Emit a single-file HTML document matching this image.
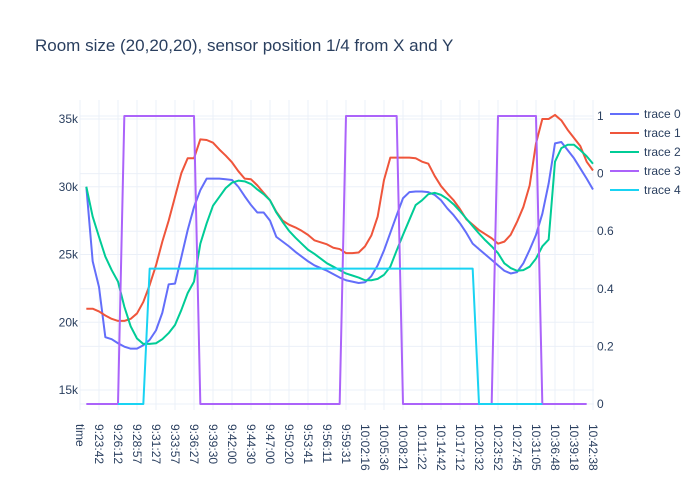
<!DOCTYPE html>
<html><head><meta charset="utf-8"><style>
body{margin:0;background:#fff;}
svg{display:block;font-family:"Liberation Sans","DejaVu Sans",sans-serif;}
</style></head><body>
<svg id="chart" width="700" height="500">
<rect width="700" height="500" fill="#fff"/>
<text x="35" y="51" font-size="17" fill="#2a3f5f">Room size (20,20,20), sensor position 1/4 from X and Y</text>
<g id="grid"></g>
<g id="series"></g>
<g id="axes"></g>
<g id="legend"></g>
</svg>
<script>
const tickLabels=["time","9:23:42","9:26:12","9:28:57","9:31:27","9:33:57","9:36:27","9:39:30","9:42:00","9:44:30","9:47:00","9:50:20","9:53:41","9:56:11","9:59:31","10:02:16","10:05:36","10:08:21","10:11:22","10:14:42","10:17:12","10:20:32","10:23:52","10:27:45","10:31:05","10:36:48","10:39:18","10:42:38"];
const leftTicks=[15,20,25,30,35];
const rightTicks=[0,0.2,0.4,0.6,0.8,1];
const trace0=[30.0,24.5,22.6,18.9,18.75,18.45,18.2,18.05,18.05,18.3,18.7,19.4,20.7,22.8,22.85,24.8,26.8,28.5,29.75,30.6,30.6,30.6,30.55,30.5,30.0,29.3,28.65,28.1,28.1,27.5,26.3,25.95,25.6,25.2,24.85,24.5,24.2,24.0,23.8,23.55,23.3,23.1,23.0,22.9,22.95,23.4,24.2,25.3,26.6,27.9,29.15,29.6,29.65,29.65,29.6,29.4,29.0,28.4,27.9,27.3,26.6,25.8,25.4,25.0,24.6,24.2,23.8,23.6,23.7,24.35,25.35,26.45,28.0,30.25,33.2,33.3,32.7,32.1,31.35,30.6,29.8];
const trace1=[21.0,21.0,20.8,20.5,20.25,20.1,20.1,20.25,20.65,21.5,22.75,24.2,25.95,27.5,29.25,31.0,32.1,32.1,33.5,33.45,33.25,32.75,32.3,31.8,31.15,30.6,30.55,30.1,29.55,29.0,28.15,27.5,27.2,27.0,26.75,26.45,26.05,25.9,25.75,25.5,25.4,25.1,25.1,25.15,25.6,26.4,27.8,30.5,32.15,32.15,32.15,32.15,32.1,31.85,31.7,30.8,30.05,29.5,29.0,28.35,27.6,27.2,26.8,26.5,26.2,25.8,25.95,26.45,27.4,28.5,30.1,33.2,35.0,35.0,35.3,34.9,34.2,33.6,33.0,31.85,31.2];
const trace2=[30.0,27.8,26.3,24.85,23.85,23.0,21.15,19.7,18.8,18.4,18.4,18.45,18.75,19.2,19.8,20.9,22.15,23.0,25.8,27.3,28.6,29.25,29.9,30.3,30.45,30.4,30.2,29.8,29.45,29.0,28.1,27.4,26.75,26.25,25.8,25.35,25.05,24.7,24.35,24.1,23.85,23.6,23.45,23.3,23.1,23.1,23.2,23.5,24.1,25.3,26.45,27.55,28.65,29.0,29.45,29.55,29.4,29.1,28.7,28.2,27.65,27.1,26.55,26.05,25.6,25.1,24.35,24.0,23.8,23.85,24.1,24.7,25.6,26.1,31.85,32.85,33.1,33.1,32.7,32.25,31.7];
const trace3=[0,0,0,0,0,0,1,1,1,1,1,1,1,1,1,1,1,1,0,0,0,0,0,0,0,0,0,0,0,0,0,0,0,0,0,0,0,0,0,0,0,1,1,1,1,1,1,1,1,1,0,0,0,0,0,0,0,0,0,0,0,0,0,0,0,1,1,1,1,1,1,1,0,0,0,0,0,0,0,0];
const trace4=[null,null,null,null,null,0,0,0,0,0,0.47,0.47,0.47,0.47,0.47,0.47,0.47,0.47,0.47,0.47,0.47,0.47,0.47,0.47,0.47,0.47,0.47,0.47,0.47,0.47,0.47,0.47,0.47,0.47,0.47,0.47,0.47,0.47,0.47,0.47,0.47,0.47,0.47,0.47,0.47,0.47,0.47,0.47,0.47,0.47,0.47,0.47,0.47,0.47,0.47,0.47,0.47,0.47,0.47,0.47,0.47,0.47,0,0,0,0,0,0,0,0,0,0,0];
const NS="http://www.w3.org/2000/svg";
const X0=80,STEP=19/3;
function xPos(i){return X0+i*STEP;}           // category index (0 = "time")
function yLeft(v){return 390-(v-15)*13.55;}
function yRight(v){return 404-v*288;}
function mk(tag,attrs,parent){const e=document.createElementNS(NS,tag);for(const k in attrs)e.setAttribute(k,attrs[k]);parent.appendChild(e);return e;}
const grid=document.getElementById('grid'),ser=document.getElementById('series'),axes=document.getElementById('axes'),leg=document.getElementById('legend');
// grid
tickLabels.forEach((t,k)=>{const x=xPos(k*3);
  const l=mk('line',{x1:x,x2:x,y1:100,y2:410,stroke:'#ebf0f8','stroke-width':1},grid);
  
  
  const tx=mk('text',{x:x-4,y:424,'font-size':12,fill:'#2a3f5f',transform:`rotate(90 ${x-4} 424)`},axes);
  tx.textContent=t;
  
  
});
leftTicks.forEach(v=>{const y=yLeft(v);
  const l=mk('line',{x1:80,x2:594,y1:y,y2:y,stroke:'#ebf0f8','stroke-width':1},grid);
  
  
  const t=mk('text',{x:78,y:y+4,'font-size':12,fill:'#2a3f5f','text-anchor':'end'},axes);
  t.textContent=v+'k';
  
  
});
rightTicks.forEach(v=>{const y=yRight(v);
  const l=mk('line',{x1:80,x2:594,y1:y,y2:y,stroke:'#ebf0f8','stroke-width':1},grid);
  
  
  const t=mk('text',{x:597,y:y+4,'font-size':12,fill:'#2a3f5f'},axes);
  t.textContent=String(v);
  
  
});
function drawLine(vals,yf,color,name){
  let d='',pen=false;
  vals.forEach((v,j)=>{if(v===null){pen=false;return;}
    d+=(pen?'L':'M')+xPos(j+1).toFixed(2)+','+yf(v).toFixed(2);pen=true;});
  const p=mk('path',{d:d,fill:'none',stroke:color,'stroke-width':2,'stroke-linejoin':'round'},ser);
  
  
}
const colors=['#636efa','#ef553b','#00cc96','#ab63fa','#19d3f3'];
drawLine(trace0,yLeft,colors[0],'trace-0-line');
drawLine(trace1,yLeft,colors[1],'trace-1-line');
drawLine(trace2,yLeft,colors[2],'trace-2-line');
drawLine(trace3,yRight,colors[3],'trace-3-line');
drawLine(trace4,yRight,colors[4],'trace-4-line');
// legend
const lb=mk('rect',{x:603,y:104,width:97,height:96,fill:'#fff'},leg);


['trace 0','trace 1','trace 2','trace 3','trace 4'].forEach((n,k)=>{const y=114+k*19;
  const g=mk('g',{},leg);
  
  
  mk('line',{x1:610,x2:639,y1:y,y2:y,stroke:colors[k],'stroke-width':2},g);
  const t=mk('text',{x:644,y:y+4,'font-size':12,fill:'#2a3f5f'},g);
  t.textContent=n;
});
</script>
</body></html>
